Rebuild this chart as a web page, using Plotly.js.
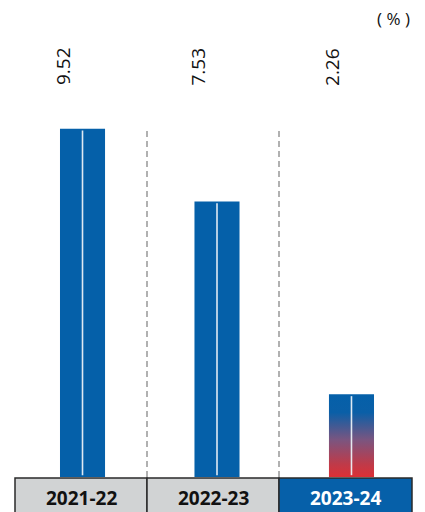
<!DOCTYPE html>
<html>
<head>
<meta charset="utf-8">
<script src="https://cdn.plot.ly/plotly-3.0.1.min.js"></script>
<style>html,body{margin:0;padding:0;background:#fff;}#chart{width:425px;height:512px;}</style>
</head>
<body>
<div id="chart"></div>
<script>
const categories = ["2021-22", "2022-23", "2023-24"];
const values = [9.52, 7.53, 2.26];
const valueLabels = ["9.52", "7.53", "2.26"];
const unitLabel = "( % )";

const BLUE = "#0560a9";
const xs = categories.map((c, i) => i);
const plainIdx = [0, 1];
const lastIdx = 2;

const traces = [];
traces.push({
  type: "bar",
  x: plainIdx.map(i => xs[i]),
  y: plainIdx.map(i => values[i]),
  width: 0.335,
  marker: {color: BLUE, line: {width: 0}},
  hoverinfo: "skip",
  showlegend: false
});
const hw = 0.335 / 2;
traces.push({
  type: "scatter",
  mode: "lines",
  x: [xs[lastIdx] - hw, xs[lastIdx] + hw, xs[lastIdx] + hw, xs[lastIdx] - hw, xs[lastIdx] - hw],
  y: [0, 0, values[lastIdx], values[lastIdx], 0],
  fill: "toself",
  line: {width: 0, color: "rgba(0,0,0,0)"},
  fillgradient: {
    type: "vertical",
    start: 0,
    stop: values[lastIdx],
    colorscale: [[0, "#dc3036"], [0.15, "#c03a48"], [0.45, "#7a5580"], [0.78, "#0a5fa7"], [1, BLUE]]
  },
  hoverinfo: "skip",
  showlegend: false
});
xs.forEach((x, i) => {
  traces.push({
    type: "scatter",
    mode: "lines",
    x: [x, x],
    y: [0.05, values[i] - 0.05],
    line: {color: "rgba(235,240,247,0.95)", width: 1.6},
    hoverinfo: "skip",
    showlegend: false
  });
});

const W = 425, H = 512, L = 15, R = 13, T = 38, B = 35;
const plotW = W - L - R, plotH = H - T - B;
const px2x = p => (p - L) / plotW;
const py2y = p => (H - B - p) / plotH;

const shapes = [];
const annotations = [];
[147, 279].forEach(p => {
  shapes.push({
    type: "line", xref: "paper", yref: "y",
    x0: px2x(p), x1: px2x(p), y0: 0, y1: Math.max(...values) - 0.05,
    line: {color: "#a9a9a9", width: 1.8, dash: "6px,4px"}
  });
});
const boxEdges = [15, 147, 279, 412];
categories.forEach((c, i) => {
  const hl = i === lastIdx;
  shapes.push({
    type: "rect", xref: "paper", yref: "paper",
    x0: px2x(boxEdges[i]), x1: px2x(boxEdges[i + 1]),
    y0: py2y(522), y1: py2y(478),
    fillcolor: hl ? "#0660a9" : "#d1d3d4",
    line: {color: "#2a2a2a", width: 1.5}
  });
  annotations.push({
    xref: "paper", yref: "paper",
    x: px2x((boxEdges[i] + boxEdges[i + 1]) / 2), y: py2y(498),
    xanchor: "center", yanchor: "middle",
    text: "<b>" + c + "</b>", showarrow: false,
    font: {family: "Open Sans", size: 19, color: hl ? "#ffffff" : "#111111"}
  });
});
values.forEach((v, i) => {
  annotations.push({
    xref: "x", yref: "paper",
    x: xs[i], xshift: -20, y: py2y(66.5),
    xanchor: "center", yanchor: "middle",
    text: valueLabels[i], textangle: -90, showarrow: false,
    font: {family: "Open Sans", size: 19, color: "#111111"}
  });
});
annotations.push({
  xref: "paper", yref: "paper", x: px2x(412), y: py2y(19),
  xanchor: "right", yanchor: "middle",
  text: unitLabel, showarrow: false,
  font: {family: "Open Sans", size: 17, color: "#111111"}
});

const layout = {
  width: W, height: H,
  margin: {l: L, r: R, t: T, b: B, pad: 0},
  paper_bgcolor: "#ffffff", plot_bgcolor: "#ffffff",
  showlegend: false,
  xaxis: {range: [-0.502, 2.45], showgrid: false, zeroline: false, showticklabels: false, ticks: "", showline: false, fixedrange: true},
  yaxis: {range: [0, 12], showgrid: false, zeroline: false, showticklabels: false, ticks: "", showline: false, fixedrange: true},
  shapes: shapes,
  annotations: annotations,
  font: {family: "Open Sans"}
};

Plotly.newPlot("chart", traces, layout, {displayModeBar: false, staticPlot: true});
</script>
</body>
</html>
